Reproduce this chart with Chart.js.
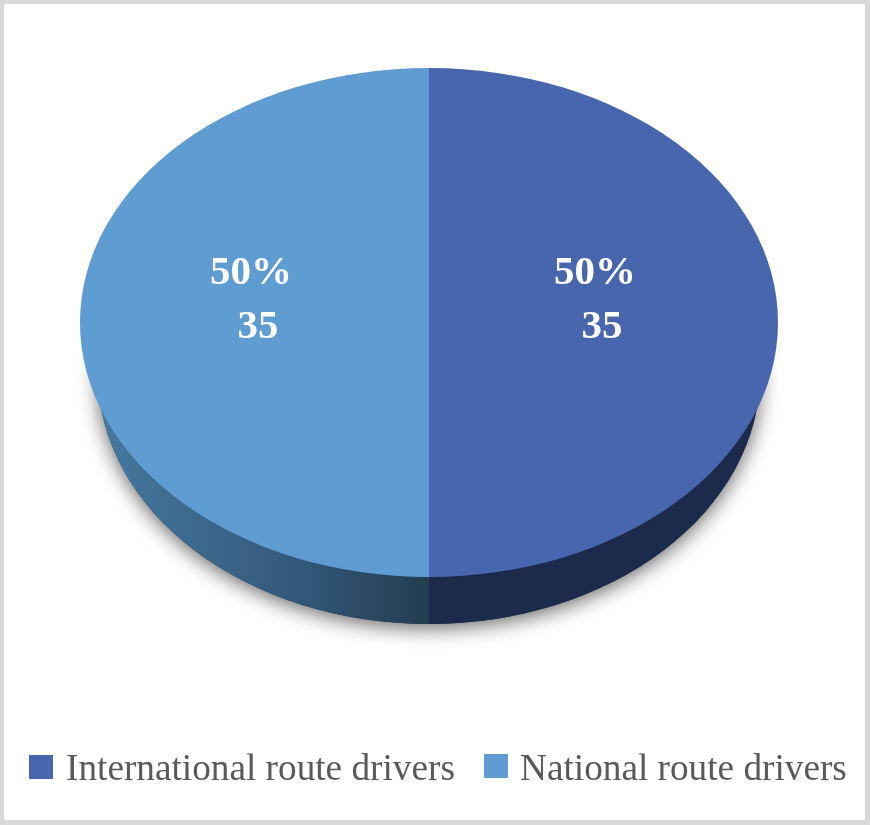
<!DOCTYPE html>
<html>
<head>
<meta charset="utf-8">
<title>Route drivers</title>
<script src="https://cdn.jsdelivr.net/npm/chart.js@4"></script>
<style>
  html, body { margin: 0; padding: 0; background: #fff; }
  #wrap { position: relative; width: 870px; height: 825px; overflow: hidden; }
  #pie { display: block; }
  #frame { position: absolute; inset: 0; box-sizing: border-box; pointer-events: none;
    border: solid #d9d9d9; border-width: 4px 5px 5px 4px; }
</style>
</head>
<body>
<div id="wrap">
  <canvas id="pie" width="870" height="825"></canvas>
  <div id="frame"></div>
</div>
<script>
var categories = ['International route drivers', 'National route drivers'];
var drivers = [35, 35];
var sliceColors = ['#4866ae', '#5f9cd2'];

// the tilted look: top face is squashed, the side is a smaller ellipse below it
var topCenterY = 322.5;
var squash = 254.5 / 349;
var sideCenterY = 374, sideRx = 331, sideRy = 250;

function sideFill(ctx, index, x) {
  if (index === 0) return '#1c2a4c';
  var grad = ctx.createLinearGradient(98, 0, x, 0);
  grad.addColorStop(0, '#46789f');
  grad.addColorStop(0.6, '#33597a');
  grad.addColorStop(1, '#243c50');
  return grad;
}

var tiltPlugin = {
  id: 'tilt',
  beforeDatasetsDraw: function (chart) {
    var ctx = chart.ctx;
    var arcs = chart.getDatasetMeta(0).data;
    var cx = arcs[0].x, cy = arcs[0].y;

    // shadow under the side wall
    ctx.save();
    ctx.shadowColor = 'rgba(0,0,0,0.6)';
    ctx.shadowBlur = 20;
    ctx.shadowOffsetY = 4;
    ctx.fillStyle = '#243c50';
    ctx.beginPath();
    ctx.ellipse(cx, sideCenterY, sideRx, sideRy, 0, 0, Math.PI * 2);
    ctx.fill();
    ctx.restore();

    // side wall, one piece per slice
    arcs.forEach(function (arc, i) {
      ctx.fillStyle = sideFill(ctx, i, cx);
      ctx.beginPath();
      ctx.moveTo(cx, sideCenterY);
      ctx.ellipse(cx, sideCenterY, sideRx, sideRy, 0, arc.startAngle, arc.endAngle);
      ctx.closePath();
      ctx.fill();
    });

    ctx.save();
    ctx.translate(cx, topCenterY);
    ctx.scale(1, squash);
    ctx.translate(-cx, -cy);
  },
  afterDatasetsDraw: function (chart) {
    chart.ctx.restore();
  }
};

var labelPlugin = {
  id: 'sliceLabels',
  afterDraw: function (chart) {
    var ctx = chart.ctx;
    var arcs = chart.getDatasetMeta(0).data;
    var total = drivers.reduce(function (a, b) { return a + b; }, 0);
    ctx.save();
    ctx.fillStyle = '#fff';
    ctx.font = 'bold 41px "Liberation Serif"';
    ctx.textAlign = 'center';
    ctx.textBaseline = 'alphabetic';
    arcs.forEach(function (arc, i) {
      var x = arc.x + (arc.getCenterPoint().x - arc.x) * 0.985;
      ctx.fillText(Math.round(drivers[i] / total * 100) + '%', x - 6, 284);
      ctx.fillText(String(drivers[i]), x + 1, 338);
    });
    ctx.restore();
  }
};

// legend is drawn here since the gap between swatch and text is tighter than the built in one
var legendBoxX = [29, 484];
var legendBoxY = [755, 754];
var legendTextX = [66, 520];
var legendPlugin = {
  id: 'bottomLegend',
  afterDraw: function (chart) {
    var ctx = chart.ctx;
    ctx.save();
    ctx.font = '37.25px "Liberation Serif"';
    ctx.textAlign = 'left';
    ctx.textBaseline = 'alphabetic';
    chart.data.labels.forEach(function (label, i) {
      ctx.fillStyle = sliceColors[i];
      ctx.fillRect(legendBoxX[i], legendBoxY[i], 24, 24);
      ctx.fillStyle = '#595959';
      ctx.fillText(label, legendTextX[i], 780);
    });
    ctx.restore();
  }
};

var pieCTX = document.getElementById('pie').getContext('2d');
var PieChart = new Chart(pieCTX, {
  type: 'pie',
  data: {
    labels: categories,
    datasets: [{
      data: drivers,
      backgroundColor: sliceColors,
      borderWidth: 0
    }]
  },
  options: {
    responsive: false,
    animation: false,
    layout: { padding: { left: 80, right: 92, top: 60, bottom: 60 } },
    plugins: {
      legend: { display: false },
      tooltip: { enabled: false }
    }
  },
  plugins: [tiltPlugin, labelPlugin, legendPlugin]
});
</script>
</body>
</html>
